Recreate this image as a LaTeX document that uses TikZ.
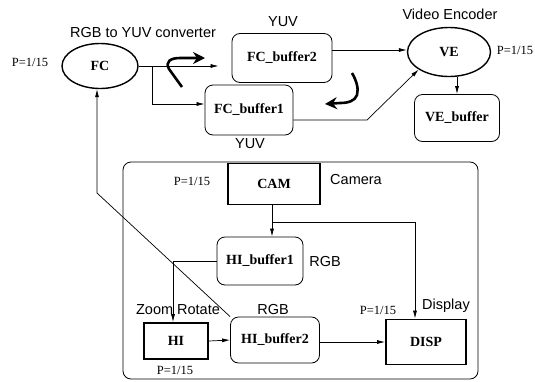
\documentclass[tikz,border=0pt]{standalone}
\usepackage{fontspec}
\setmainfont{Liberation Serif}
\setsansfont{Liberation Sans}
\usetikzlibrary{arrows.meta,shapes.geometric}

\tikzset{
    buf/.style={draw,line width=0.8pt,rounded corners=8pt,inner sep=0pt,font=\fontsize{14}{16}\selectfont\bfseries},
    task/.style={draw,line width=1.8pt,inner sep=0pt,font=\fontsize{14}{16}\selectfont\bfseries},
    proc/.style={ellipse,draw,line width=1.4pt,inner sep=0pt,font=\fontsize{14}{16}\selectfont\bfseries},
    lbl/.style={font=\sffamily\fontsize{14.5}{17}\selectfont},
    prio/.style={font=\fontsize{12.5}{15}\selectfont},
    link/.style={line width=0.7pt,-{Latex[length=8pt,width=4pt]}},
    hook/.style={line width=2.6pt,-{Stealth[length=12pt,width=12pt,inset=4pt]}}
}

\begin{document}
\begin{tikzpicture}[x=1pt,y=-1pt]
            \useasboundingbox (0,0) rectangle (535,381);
            \draw[line width=0.8pt,rounded corners=8pt] (123,162) rectangle (478,379);
            \node (FC) at (100,66)[proc,minimum width=76pt,minimum height=45pt]{FC};
            \node (VE) at (449,52)[proc,minimum width=83pt,minimum height=49pt]{VE};
            \node (FCb2) at (282,58)[buf,minimum width=100pt,minimum height=49pt]{FC\_buffer2};
            \node (FCb1) at (249,110)[buf,minimum width=88pt,minimum height=50pt]{FC\_buffer1};
            \node (VEb) at (457,118)[buf,minimum width=85pt,minimum height=47pt]{VE\_buffer};
            \node (CAM) at (274,184)[task,minimum width=92pt,minimum height=41pt]{CAM};
            \node (HIb1) at (260,261)[buf,minimum width=86pt,minimum height=48pt]{HI\_buffer1};
            \node (HI) at (176,341)[task,minimum width=64pt,minimum height=36pt]{HI};
            \node (HIb2) at (275,340)[buf,minimum width=89pt,minimum height=46pt]{HI\_buffer2};
            \node (DISP) at (426,342)[task,minimum width=80pt,minimum height=45pt]{DISP};

            \node (tFC) at (143,33)[lbl]{RGB to YUV converter};
            \node (tVE) at (450,14)[lbl]{Video Encoder};
            \node (yuv2) at (283,22)[lbl]{YUV};
            \node (yuv1) at (250,144)[lbl]{YUV};
            \node (tCAM) at (356,180)[lbl]{Camera};
            \node (rgb1) at (325,262)[lbl]{RGB};
            \node (rgb2) at (273,310)[lbl]{RGB};
            \node (tHI) at (178,310)[lbl]{Zoom Rotate};
            \node (tDISP) at (446,306)[lbl]{Display};
            \foreach \x/\y [count=\i] in {30/62,515/50,192/181,175/370,378/310}{
                \node (p\i) at (\x,\y)[prio]{P=1/15};
            }

            \coordinate (s1) at (152,66);
            \coordinate (s2) at (367,120);
            \coordinate (s3) at (272,222);
            \coordinate (s4) at (173,261);
            \coordinate (s5) at (97,193);
            \draw[link,shorten >=13pt] (FC.east) -- (FC.east -| FCb2.west);
            \draw[link] (s1) |- (FCb1.west |- 0,104);
            \draw[link] (FCb2.east |- 0,50) -- (VE.west |- 0,50);
            \draw[link] (FCb1.east |- s2) -- (s2) -- (VE.210);
            \draw[link] (VEb.north |- VE.south) -- (VEb.north);
            \draw[link] (CAM.south -| s3) -- (HIb1.north -| s3);
            \draw[link] (s3) -| (DISP.north -| 415,0);
            \draw[link] (HIb1.west) -- (s4) -- (HI.north -| s4);
            \draw[link] (HI.east) -- (HIb2.west);
            \draw[link] (HIb2.east |- DISP.west) -- (DISP.west);
            \draw[link] (HIb2.north west) -- (s5) -- (FC.south -| s5);

            \draw[hook] (182,87) -- (169,69) .. controls (165,62) and (170,58) .. (180,58) -- (205,58);
            \draw[hook] (352,73) .. controls (356,80) and (359,88) .. (357,95) .. controls (355,101) and (348,103) .. (340,103) -- (325,104);
        \end{tikzpicture}
\end{document}
